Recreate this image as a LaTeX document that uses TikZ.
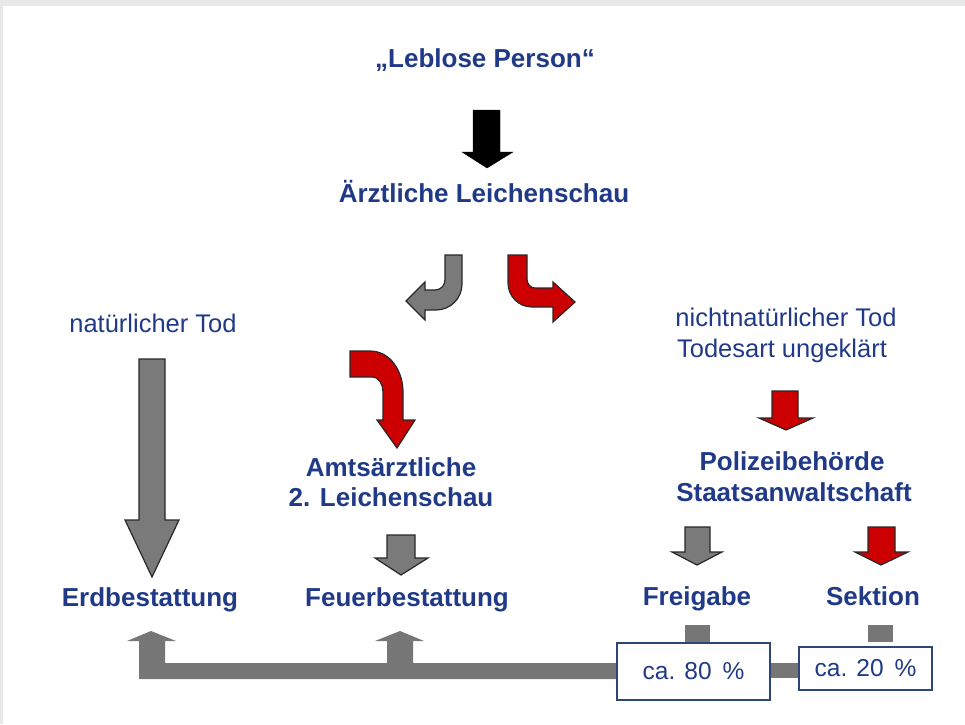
\documentclass[tikz,border=0pt]{standalone}
\usepackage{fontspec}
\setmainfont{Liberation Sans}
\definecolor{navy}{RGB}{32,58,135}
\definecolor{arrowgray}{RGB}{122,122,122}
\definecolor{arrowred}{RGB}{204,0,0}
\definecolor{outlinec}{RGB}{40,40,40}
\definecolor{bargray}{RGB}{118,118,118}
\definecolor{boxblue}{RGB}{46,69,120}
\definecolor{shadowc}{RGB}{232,232,232}
\newcommand\dnarr[9]{\draw[#1] (#2,#6) -- (#2,#7) -- (#4,#7) -- (#8,#9) -- (#5,#7) -- (#3,#7) -- (#3,#6) -- cycle;}
\begin{document}
\begin{tikzpicture}[x=1pt,y=-1pt,
  title/.style={font=\fontsize{26}{30}\selectfont\bfseries, text=navy, inner sep=0pt, anchor=base},
  plain/.style={font=\fontsize{25.5}{30}\selectfont, text=navy, inner sep=0pt, anchor=base},
  grayarrow/.style={fill=arrowgray, draw=outlinec, line width=1.2pt, line join=miter},
  redarrow/.style={fill=arrowred, draw=outlinec, line width=1.2pt, line join=miter},
  blackarrow/.style={fill=black},
  bar/.style={fill=bargray},
  pbox/.style={draw=boxblue, line width=1.5pt, fill=white, inner sep=0pt, font=\fontsize{24.5}{28}\selectfont, text=navy}
]
\useasboundingbox (0,0) rectangle (965,724);
\fill[shadowc] (0,0) rectangle (965,724);
\fill[white] (3,6) rectangle (965,724);

% texts
\node[title] (leblose) at (485,67) {„Leblose Person“};
\node[title] (aerztl) at (484,202) {Ärztliche Leichenschau};
\node[plain] (natTod) at (153,332) {natürlicher Tod};
\node[plain] (nnTodA) at (786,326) {nichtnatürlicher Tod};
\node[plain] (nnTodB) at (782,357) {Todesart  ungeklärt};
\node[title] (amtsA) at (391,476) {Amtsärztliche};
\node[title] (amtsB) at (391,506) {2. Leichenschau};
\node[title] (poliA) at (792,470) {Polizeibehörde};
\node[title] (poliB) at (794,501) {Staatsanwaltschaft};
\node[title] (erd) at (150,606) {Erdbestattung};
\node[title] (feuer) at (407,606) {Feuerbestattung};
\node[title] (frei) at (697,605) {Freigabe};
\node[title] (sektion) at (873,605) {Sektion};

% straight arrows
\dnarr{blackarrow}{473}{500}{462}{513}{110}{152}{487}{168}
\dnarr{grayarrow}{139}{165}{125}{179}{359}{520}{152}{577}
\dnarr{grayarrow}{387}{415}{375}{428}{535}{558}{401}{575}
\dnarr{redarrow}{772}{798}{759}{813}{391}{418}{786}{430}
\dnarr{grayarrow}{685}{710}{672}{722}{527}{552}{697}{565}
\dnarr{redarrow}{868}{895}{855}{908}{527}{552}{881}{565}

% curved arrows
\draw[grayarrow] (445,255) -- (445,280) to[out=-90,in=0] (435,290) -- (425,290) -- (425,282)
  -- (406,301) -- (425,320) -- (425,310) -- (436,310) to[out=0,in=-90] (462,284) -- (462,255) -- cycle;
\draw[redarrow] (508,255) -- (508,283) to[out=-90,in=180] (532,307) -- (553,307) -- (553,322)
  -- (575,302) -- (553,282) -- (553,288) -- (535,288) to[out=180,in=-90] (527,279) -- (527,255) -- cycle;
\draw[redarrow] (350,351) -- (370,351) to[out=0,in=90] (403,392) -- (403,420) -- (415,420)
  -- (397,448) -- (377,420) -- (383,420) -- (383,392) to[out=90,in=0] (372,377) -- (350,377) -- cycle;

% bottom connector
\fill[bar] (139,679) -- (139,641) -- (127,641) -- (151,631) -- (176,641) -- (165,641) -- (165,663)
  -- (387,663) -- (387,641) -- (375,641) -- (400,631) -- (424,641) -- (413,641) -- (413,663)
  -- (620,663) -- (620,679) -- cycle;
\fill[bar] (765,663) rectangle (802,678);
\fill[bar] (685,625) rectangle (710,645);
\fill[bar] (868,625) rectangle (893,642);

\node[pbox, minimum width=153pt, minimum height=57pt] (box80) at (693.5,671.5) {ca. 80 \,\%};
\node[pbox, minimum width=133pt, minimum height=43pt] (box20) at (865.5,668.5) {ca. 20 \,\%};
\end{tikzpicture}
\end{document}
